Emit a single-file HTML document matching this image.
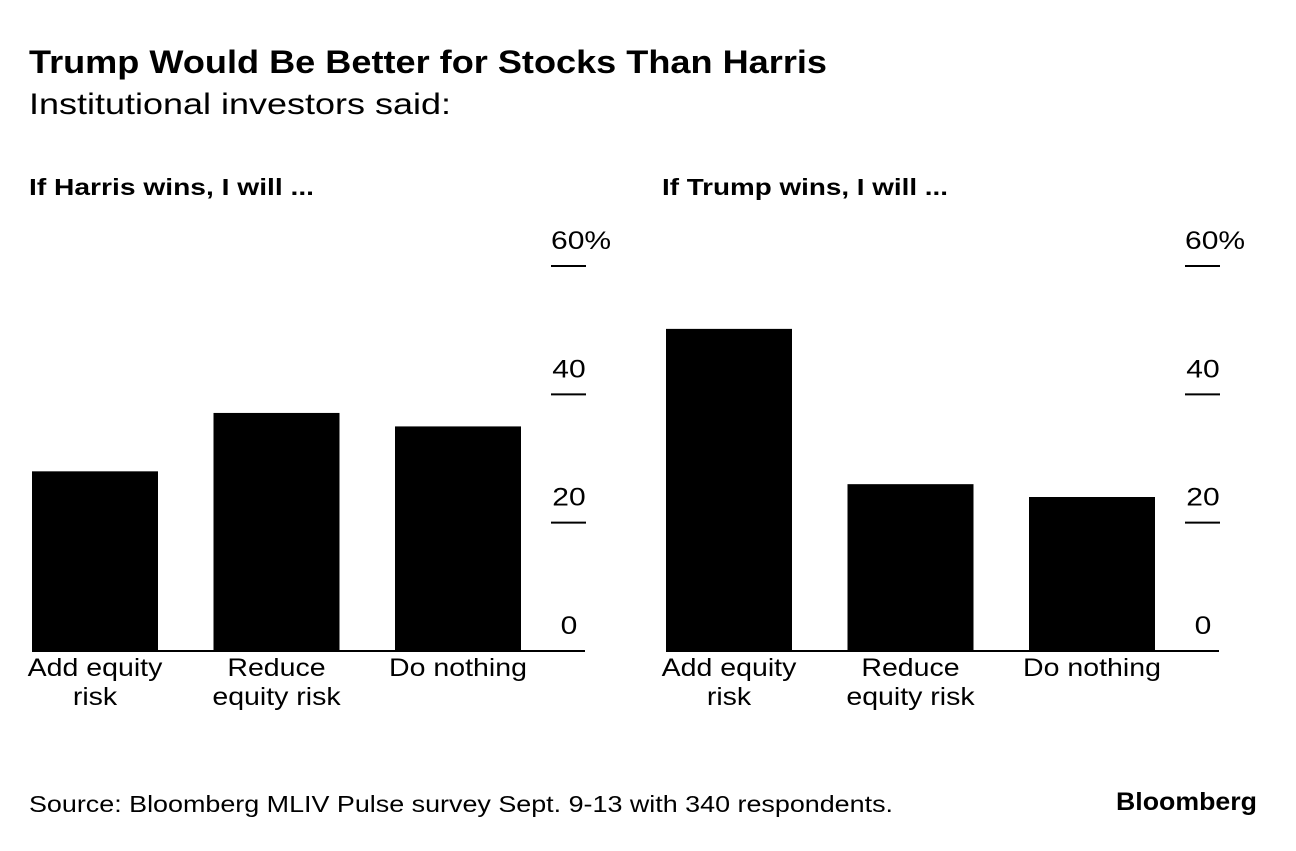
<!DOCTYPE html>
<html><head><meta charset="utf-8"><style>
body{margin:0;background:#fff;width:1296px;height:846px;overflow:hidden;font-family:"Liberation Sans",Arial,sans-serif;color:#000}
</style></head><body>
<svg width="1296" height="846" xmlns="http://www.w3.org/2000/svg" font-family="Liberation Sans, Arial, sans-serif">
<text x="29" y="73" font-size="32" font-weight="bold" textLength="798" lengthAdjust="spacingAndGlyphs">Trump Would Be Better for Stocks Than Harris</text>
<text x="29" y="114" font-size="30" textLength="422" lengthAdjust="spacingAndGlyphs">Institutional investors said:</text>
<text x="29" y="195" font-size="23" font-weight="bold" textLength="285" lengthAdjust="spacingAndGlyphs">If Harris wins, I will ...</text>
<text x="662" y="195" font-size="23" font-weight="bold" textLength="286" lengthAdjust="spacingAndGlyphs">If Trump wins, I will ...</text>
<g id="left"></g>
<g id="right"></g>
<text x="29" y="812" font-size="23" textLength="864" lengthAdjust="spacingAndGlyphs">Source: Bloomberg MLIV Pulse survey Sept. 9-13 with 340 respondents.</text>
<text x="1116" y="810" font-size="25" font-weight="bold" textLength="141" lengthAdjust="spacingAndGlyphs">Bloomberg</text>
</svg>
<script>
const categories=[["Add equity","risk"],["Reduce","equity risk"],["Do nothing"]];
const harrisValues=[28,37.1,35];
const trumpValues=[50.2,26,24];
const tickValues=[0,20,40,60];
const tickLabels=["0","20","40","60%"];
const NS="http://www.w3.org/2000/svg";
function mk(tag,attrs,parent){const e=document.createElementNS(NS,tag);for(const k in attrs)e.setAttribute(k,attrs[k]);parent.appendChild(e);return e;}
function stretch(t,f){const w=t.getComputedTextLength();t.setAttribute('textLength',(w*f).toFixed(1));t.setAttribute('lengthAdjust','spacingAndGlyphs');}
function panel(g,x0,values,prefix){
  const y=v=>651-v*(651-266)/60;
  const bw=126,step=181.5;
  values.forEach((v,i)=>{
    const r=mk('rect',{x:x0+i*step,y:y(v),width:bw,height:651-y(v),fill:'#000'},g);
    
    
    categories[i].forEach((ln,j)=>{
      const t=mk('text',{x:x0+i*step+bw/2,y:676+j*29,'font-size':25,'text-anchor':'middle'},g);
      t.textContent=ln;
      
      
      stretch(t,1.14);
    });
  });
  const ax=mk('line',{x1:x0,x2:x0+553,y1:651,y2:651,stroke:'#000','stroke-width':2},g);
  
  
  tickValues.forEach((v,i)=>{
    if(v>0){const l=mk('line',{x1:x0+519,x2:x0+554,y1:y(v),y2:y(v),stroke:'#000','stroke-width':2},g);
    
    }
    const t=mk('text',{x:x0+537,y:y(v)-17,'font-size':25,'text-anchor':v===60?'start':'middle'},g);
    if(v===60)t.setAttribute('x',x0+519);
    t.textContent=tickLabels[i];
    
    
    stretch(t,1.2);
  });
}
panel(document.getElementById('left'),32,harrisValues,'harris');
panel(document.getElementById('right'),666,trumpValues,'trump');
</script>
</body></html>
